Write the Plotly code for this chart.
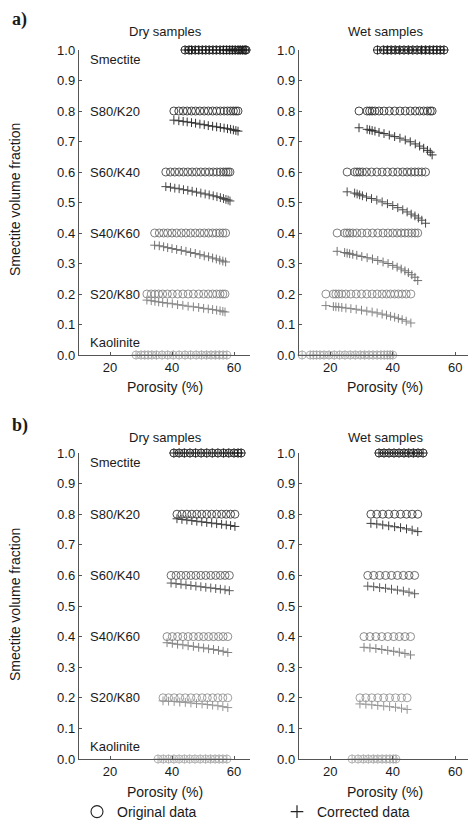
import plotly.graph_objects as go

# ---------------- DATA ----------------
labels = ["Smectite", "S80/K20", "S60/K40", "S40/K60", "S20/K80", "Kaolinite"]
nominal = [1.0, 0.8, 0.6, 0.4, 0.2, 0.0]
x_ticks = [20, 40, 60]
y_ticks = [0.0, 0.1, 0.2, 0.3, 0.4, 0.5, 0.6, 0.7, 0.8, 0.9, 1.0]

# ---- a) dry ----
a_dry_s100_phi = [44.2, 45.5, 46.3, 47.5, 48.6, 49.8, 50.9, 52.0, 53.2, 54.3, 55.5, 56.6, 57.6, 58.6, 59.5, 60.4, 61.3, 62.0, 62.8, 63.5, 63.9]
a_dry_s100_corr = [1.0] * 21
a_dry_s80_phi = [40.6, 42.2, 43.6, 44.9, 46.3, 47.6, 49.0, 50.4, 51.7, 53.1, 54.4, 55.6, 56.8, 57.9, 58.9, 59.8, 60.6, 61.3]
a_dry_s80_corr = [0.770, 0.768, 0.766, 0.764, 0.762, 0.760, 0.757, 0.755, 0.752, 0.750, 0.748, 0.746, 0.744, 0.742, 0.740, 0.738, 0.736, 0.734]
a_dry_s60_phi = [38.0, 39.5, 40.9, 42.3, 43.7, 45.1, 46.5, 47.9, 49.3, 50.7, 52.0, 53.3, 54.5, 55.6, 56.6, 57.4, 58.1, 58.7]
a_dry_s60_corr = [0.552, 0.550, 0.547, 0.545, 0.542, 0.540, 0.537, 0.534, 0.531, 0.528, 0.525, 0.522, 0.519, 0.516, 0.513, 0.510, 0.508, 0.505]
a_dry_s40_phi = [34.4, 35.9, 37.3, 38.6, 40.0, 41.5, 43.0, 44.5, 46.0, 47.5, 49.0, 50.4, 51.8, 53.1, 54.3, 55.4, 56.4, 57.3]
a_dry_s40_corr = [0.360, 0.358, 0.355, 0.352, 0.349, 0.346, 0.343, 0.340, 0.336, 0.333, 0.329, 0.325, 0.322, 0.318, 0.315, 0.311, 0.308, 0.305]
a_dry_s20_phi = [31.9, 33.3, 34.5, 35.7, 37.0, 38.5, 40.1, 41.8, 43.5, 45.2, 46.9, 48.6, 50.2, 51.7, 53.1, 54.4, 55.5, 56.4, 57.1]
a_dry_s20_corr = [0.180, 0.178, 0.176, 0.174, 0.172, 0.170, 0.168, 0.165, 0.163, 0.160, 0.158, 0.156, 0.153, 0.151, 0.149, 0.147, 0.145, 0.143, 0.141]
a_dry_s0_phi = [28.4, 30.0, 31.2, 32.3, 33.5, 35.0, 36.8, 38.6, 40.4, 42.3, 44.2, 46.0, 47.8, 49.5, 51.1, 52.6, 54.0, 55.3, 56.5, 57.7]
a_dry_s0_corr = [0.0] * 20

# ---- a) wet ----
a_wet_s100_phi = [35.1, 37.0, 38.3, 39.5, 40.8, 42.2, 43.6, 45.0, 46.4, 47.8, 49.2, 50.5, 51.8, 53.0, 54.1, 55.2, 56.4]
a_wet_s100_corr = [1.0] * 17
a_wet_s80_phi = [29.2, 31.8, 32.6, 33.4, 34.3, 35.6, 37.2, 38.9, 40.6, 42.3, 44.0, 45.6, 47.2, 48.6, 49.9, 51.1, 52.0, 52.6]
a_wet_s80_corr = [0.745, 0.740, 0.738, 0.736, 0.734, 0.730, 0.726, 0.721, 0.716, 0.711, 0.705, 0.699, 0.692, 0.685, 0.678, 0.671, 0.665, 0.656]
a_wet_s60_phi = [25.4, 27.8, 28.6, 29.4, 30.3, 31.6, 33.2, 34.9, 36.6, 38.3, 40.0, 41.6, 43.2, 44.6, 45.9, 47.1, 48.2, 49.3, 50.5]
a_wet_s60_corr = [0.535, 0.531, 0.528, 0.525, 0.522, 0.518, 0.513, 0.508, 0.502, 0.496, 0.490, 0.483, 0.476, 0.469, 0.462, 0.456, 0.449, 0.442, 0.432]
a_wet_s40_phi = [22.2, 24.6, 25.4, 26.2, 27.2, 28.5, 30.1, 31.8, 33.5, 35.2, 36.9, 38.5, 40.0, 41.4, 42.7, 43.9, 45.0, 46.1, 47.1, 48.0]
a_wet_s40_corr = [0.340, 0.336, 0.334, 0.332, 0.330, 0.327, 0.323, 0.319, 0.315, 0.310, 0.305, 0.300, 0.294, 0.288, 0.282, 0.276, 0.270, 0.263, 0.255, 0.244]
a_wet_s20_phi = [18.6, 21.0, 21.8, 22.7, 23.7, 25.0, 26.6, 28.3, 30.0, 31.7, 33.4, 35.0, 36.6, 38.0, 39.3, 40.6, 41.8, 43.0, 44.3, 45.8]
a_wet_s20_corr = [0.162, 0.159, 0.158, 0.157, 0.156, 0.154, 0.152, 0.150, 0.147, 0.144, 0.141, 0.138, 0.134, 0.131, 0.127, 0.124, 0.120, 0.116, 0.111, 0.105]
a_wet_s0_phi = [11.0, 13.6, 14.6, 15.6, 16.7, 18.0, 19.6, 21.3, 23.0, 24.7, 26.4, 28.0, 29.6, 31.0, 32.4, 33.7, 35.0, 36.2, 37.3, 38.3, 39.2, 40.0]
a_wet_s0_corr = [0.0] * 22

# ---- b) dry ----
b_dry_s100_phi = [40.6, 42.3, 44.0, 45.8, 47.6, 49.4, 51.2, 53.0, 54.8, 56.6, 58.3, 60.0, 61.3, 62.3]
b_dry_s100_corr = [1.0] * 14
b_dry_s80_phi = [41.6, 43.2, 44.8, 46.4, 48.0, 49.6, 51.2, 52.8, 54.4, 56.0, 57.5, 58.9, 60.3]
b_dry_s80_corr = [0.785, 0.783, 0.781, 0.779, 0.777, 0.775, 0.773, 0.771, 0.769, 0.767, 0.765, 0.763, 0.760]
b_dry_s60_phi = [39.7, 41.3, 42.9, 44.5, 46.1, 47.7, 49.3, 50.9, 52.5, 54.1, 55.6, 57.1, 58.5]
b_dry_s60_corr = [0.575, 0.573, 0.571, 0.569, 0.567, 0.565, 0.563, 0.561, 0.559, 0.557, 0.555, 0.553, 0.550]
b_dry_s40_phi = [38.4, 40.1, 41.8, 43.5, 45.2, 46.9, 48.6, 50.2, 51.8, 53.4, 55.0, 56.5, 58.0]
b_dry_s40_corr = [0.380, 0.378, 0.375, 0.373, 0.370, 0.368, 0.365, 0.363, 0.360, 0.358, 0.355, 0.352, 0.348]
b_dry_s20_phi = [37.1, 38.9, 40.7, 42.5, 44.3, 46.1, 47.9, 49.7, 51.4, 53.1, 54.8, 56.4, 58.0]
b_dry_s20_corr = [0.190, 0.189, 0.188, 0.186, 0.185, 0.183, 0.181, 0.180, 0.178, 0.176, 0.174, 0.171, 0.168]
b_dry_s0_phi = [35.5, 37.2, 38.9, 40.6, 42.3, 44.0, 45.7, 47.4, 49.1, 50.8, 52.4, 53.9, 55.2, 56.4, 57.7]
b_dry_s0_corr = [0.0] * 15

# ---- b) wet ----
b_wet_s100_phi = [35.6, 37.2, 38.8, 40.4, 42.0, 43.6, 45.1, 46.6, 48.1, 49.7]
b_wet_s100_corr = [1.0] * 10
b_wet_s80_phi = [33.0, 34.9, 36.8, 38.7, 40.6, 42.5, 44.4, 46.2, 48.0]
b_wet_s80_corr = [0.770, 0.768, 0.765, 0.762, 0.759, 0.756, 0.752, 0.748, 0.743]
b_wet_s60_phi = [32.0, 33.9, 35.8, 37.7, 39.6, 41.5, 43.4, 45.2, 47.0]
b_wet_s60_corr = [0.565, 0.563, 0.560, 0.558, 0.555, 0.552, 0.549, 0.545, 0.540]
b_wet_s40_phi = [30.8, 32.7, 34.6, 36.5, 38.4, 40.3, 42.1, 43.9, 45.7]
b_wet_s40_corr = [0.365, 0.363, 0.361, 0.358, 0.355, 0.352, 0.349, 0.345, 0.340]
b_wet_s20_phi = [29.5, 31.4, 33.3, 35.2, 37.1, 39.0, 40.9, 42.8, 44.6]
b_wet_s20_corr = [0.180, 0.179, 0.177, 0.175, 0.173, 0.171, 0.169, 0.166, 0.162]
b_wet_s0_phi = [27.0, 28.9, 30.6, 32.2, 33.8, 35.2, 36.6, 37.9, 39.1, 40.2, 41.0]
b_wet_s0_corr = [0.0] * 11

# ---------------- STYLE ----------------
W, H = 468, 823
FONT = "Liberation Sans, Arial, Helvetica, sans-serif"
TXT = "#1a1a1a"
colors_a = ["#1a1a1a", "#333333", "#4a4a4a", "#707070", "#858585", "#a8a8a8"]
colors_b = ["#1a1a1a", "#3c3c3c", "#5a5a5a", "#808080", "#959595", "#ababab"]

panels = [
    ("x", "y", [(a_dry_s100_phi, a_dry_s100_corr), (a_dry_s80_phi, a_dry_s80_corr), (a_dry_s60_phi, a_dry_s60_corr),
                (a_dry_s40_phi, a_dry_s40_corr), (a_dry_s20_phi, a_dry_s20_corr), (a_dry_s0_phi, a_dry_s0_corr)], colors_a),
    ("x2", "y2", [(a_wet_s100_phi, a_wet_s100_corr), (a_wet_s80_phi, a_wet_s80_corr), (a_wet_s60_phi, a_wet_s60_corr),
                  (a_wet_s40_phi, a_wet_s40_corr), (a_wet_s20_phi, a_wet_s20_corr), (a_wet_s0_phi, a_wet_s0_corr)], colors_a),
    ("x3", "y3", [(b_dry_s100_phi, b_dry_s100_corr), (b_dry_s80_phi, b_dry_s80_corr), (b_dry_s60_phi, b_dry_s60_corr),
                  (b_dry_s40_phi, b_dry_s40_corr), (b_dry_s20_phi, b_dry_s20_corr), (b_dry_s0_phi, b_dry_s0_corr)], colors_b),
    ("x4", "y4", [(b_wet_s100_phi, b_wet_s100_corr), (b_wet_s80_phi, b_wet_s80_corr), (b_wet_s60_phi, b_wet_s60_corr),
                  (b_wet_s40_phi, b_wet_s40_corr), (b_wet_s20_phi, b_wet_s20_corr), (b_wet_s0_phi, b_wet_s0_corr)], colors_b),
]

fig = go.Figure()
for xa, ya, series, cols in panels:
    for (phi, corr), nom, col in zip(series, nominal, cols):
        fig.add_trace(go.Scatter(
            x=phi, y=[nom] * len(phi), xaxis=xa, yaxis=ya, mode="markers",
            marker=dict(symbol="circle-open", size=8, color=col, line=dict(width=0.9, color=col)),
            showlegend=False, cliponaxis=False, hoverinfo="skip"))
        fig.add_trace(go.Scatter(
            x=phi, y=corr, xaxis=xa, yaxis=ya, mode="markers",
            marker=dict(symbol="cross-thin-open", size=6.3, color=col, line=dict(width=1.0, color=col)),
            showlegend=False, cliponaxis=False, hoverinfo="skip"))

# legend entries (one legend each, placed side by side)
fig.add_trace(go.Scatter(x=[None], y=[None], mode="markers", name="Original data", legend="legend",
                         marker=dict(symbol="circle-open", size=12, color="#222", line=dict(width=1.1, color="#222"))))
fig.add_trace(go.Scatter(x=[None], y=[None], mode="markers", name="Corrected data", legend="legend2",
                         marker=dict(symbol="cross-thin-open", size=9, color="#222", line=dict(width=1.2, color="#222"))))

# axes geometry (pixels)
dry_x0, dry_x1 = 79, 79 + 55 * 3.1
wet_x0, wet_x1 = 299, 468
wet_xmax = 10 + (wet_x1 - wet_x0) / 3.125
a_top, a_bot = 50, 355
b_top, b_bot = 453, 759

def px(x):
    return x / W

def py(y):
    return 1 - y / H

axis_common = dict(showgrid=False, zeroline=False, showline=True, linecolor="#555555", linewidth=1.4,
                   ticks="inside", ticklen=3, tickcolor="#555555", tickwidth=1.2,
                   tickfont=dict(family=FONT, size=13, color=TXT), fixedrange=True, automargin=False)

layout_axes = {}
for i, (x0, x1, xmax, top, bot) in enumerate([
        (dry_x0, dry_x1, 65, a_top, a_bot), (wet_x0, wet_x1, wet_xmax, a_top, a_bot),
        (dry_x0, dry_x1, 65, b_top, b_bot), (wet_x0, wet_x1, wet_xmax, b_top, b_bot)]):
    n = "" if i == 0 else str(i + 1)
    layout_axes["xaxis" + n] = dict(axis_common, domain=[px(x0), px(x1)], range=[10, xmax],
                                    tickvals=x_ticks, anchor="y" + n)
    layout_axes["yaxis" + n] = dict(axis_common, domain=[py(bot), py(top)], range=[0, 1.0],
                                    tickvals=y_ticks, tickformat=".1f", anchor="x" + n)

fig.update_layout(**layout_axes)

ann = []
def text(x, y, s, size=13, xanchor="center", angle=0, family=FONT, bold=False):
    ann.append(dict(x=px(x), y=py(y), xref="paper", yref="paper", text=("<b>%s</b>" % s) if bold else s,
                    showarrow=False, xanchor=xanchor, yanchor="middle", textangle=angle,
                    font=dict(family=family, size=size, color=TXT)))

for top_title, xl_y, ylab_y, letter_y, letter in [(32, 387, 200, 20, "a)"), (437, 792, 605, 425, "b)")]:
    text(165, top_title, "Dry samples")
    text(385, top_title, "Wet samples")
    text(165, xl_y, "Porosity (%)", size=14)
    text(385, xl_y, "Porosity (%)", size=14)
    text(15, ylab_y, "Smectite volume fraction", size=14, angle=-90)
    text(10, letter_y, letter, size=18, xanchor="left", family="Liberation Serif, Times New Roman, serif", bold=True)

for top, bot in [(a_top, a_bot), (b_top, b_bot)]:
    for lab, nom in zip(labels, nominal):
        v = nom
        if lab == "Smectite":
            v = 0.97
        if lab == "Kaolinite":
            v = 0.04
        ypx = bot - v * (bot - top)
        text(88, ypx, lab, xanchor="left")

leg_common = dict(orientation="h", xanchor="left", yanchor="middle", y=py(812),
                  font=dict(family=FONT, size=14, color=TXT), bgcolor="rgba(0,0,0,0)",
                  itemclick=False, itemdoubleclick=False, borderwidth=0)

fig.update_layout(
    width=W, height=H, margin=dict(l=0, r=0, t=0, b=0, autoexpand=False),
    paper_bgcolor="white", plot_bgcolor="white",
    annotations=ann,
    showlegend=True,
    legend=dict(leg_common, x=px(77)),
    legend2=dict(leg_common, x=px(277)),
)

fig.write_html("out.html")
